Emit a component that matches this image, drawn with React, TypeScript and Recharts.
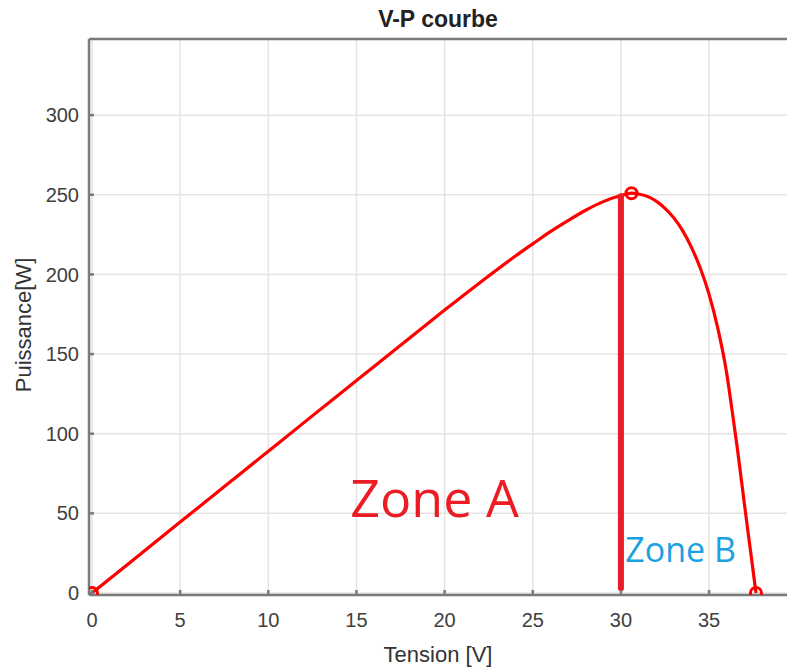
import React from 'react';
import {
  ComposedChart,
  Line,
  Scatter,
  XAxis,
  YAxis,
  CartesianGrid,
  ReferenceLine,
  ReferenceDot,
} from 'recharts';

const voltages = [0, 2, 5, 8, 10, 12, 15, 18, 20, 22, 24, 25, 26, 27, 28, 29, 30, 30.6, 31, 31.5, 32, 32.5, 33, 33.5, 34, 34.5, 35, 35.5, 36, 36.3, 36.6, 36.9, 37.2, 37.45, 37.66];
const powers = [0, 17.8, 44.5, 71.2, 89, 106.8, 133.4, 160, 177.6, 194.8, 211.4, 219.2, 226.9, 233.8, 240.3, 245.7, 249.5, 251, 250.5, 249, 246, 241.5, 235.5, 227.5, 217, 204, 187.5, 166, 138, 115, 91, 65, 39, 18, 0];

const markerV = [0, 30.6, 37.66];
const markerP = [0, 251, 0];

const xTicks = [0, 5, 10, 15, 20, 25, 30, 35];
const yTicks = [0, 50, 100, 150, 200, 250, 300];

const mppLineV = 30;
const mppLineP = [3, 249];

const zoneA = { v: 14.65, p: 48, text: 'Zone A' };
const zoneB = { v: 30.25, p: 19.5, text: 'Zone B' };

const curve = voltages.map((v, i) => ({ v, p: powers[i] }));
const markers = markerV.map((v, i) => ({ v, p: markerP[i] }));

const tickStyle = { fontFamily: 'Liberation Sans, Arial, sans-serif', fontSize: 20, fill: '#404040' };
const AXIS = '#7a7a7a';

const ZoneLabel = (text: string, color: string, size: number) => (props: any) => {
  const vb = props.viewBox || {};
  const x = (vb.x ?? 0) + (vb.width ?? 0) / 2;
  const y = (vb.y ?? 0) + (vb.height ?? 0) / 2;
  return (
    <text x={x} y={y} fill={color} fontSize={size} fontFamily="'Open Sans', sans-serif" textAnchor="start">
      {text}
    </text>
  );
};

const YLabel = (props: any) => {
  const vb = props.viewBox || {};
  const x = (vb.x ?? 0) + 31;
  const y = (vb.y ?? 0) + (vb.height ?? 0) / 2 + 8;
  return (
    <text
      x={x}
      y={y}
      transform={`rotate(-90 ${x} ${y})`}
      textAnchor="middle"
      fontSize={22}
      fontFamily="Liberation Sans, Arial, sans-serif"
      fill="#333"
    >
      Puissance[W]
    </text>
  );
};

const Marker = (props: any) => (
  <circle cx={props.cx} cy={props.cy} r={5.5} fill="none" stroke="#ff0000" strokeWidth={3} />
);

function YLabelWrap(props: any) {
  return <YLabel {...props} />;
}

export default function App() {
  return (
    <div style={{ position: 'absolute', left: 0, top: 0, width: 788, height: 667, background: '#fff' }}>
      <ComposedChart width={788} height={667} data={curve} margin={{ top: 38, right: 0, bottom: 0, left: 0 }}>
        <CartesianGrid stroke="#e4e4e4" strokeWidth={1.5} horizontalValues={yTicks} verticalValues={xTicks} />
        <XAxis
          xAxisId={0}
          dataKey="v"
          type="number"
          domain={[-0.17, 39.42]}
          ticks={xTicks}
          allowDataOverflow
          height={72}
          stroke={AXIS}
          strokeWidth={2.5}
          tickSize={-5}
          tickMargin={23}
          tick={tickStyle}
          label={{ value: 'Tension [V]', position: 'insideBottom', offset: 5, fontSize: 22, fill: '#333', fontFamily: 'Liberation Sans, Arial, sans-serif' }}
        />
        <XAxis
          xAxisId="top"
          orientation="top"
          type="number"
          dataKey="v"
          domain={[-0.17, 39.42]}
          ticks={xTicks}
          allowDataOverflow
          height={1}
          stroke={AXIS}
          strokeWidth={2.5}
          tickSize={-5}
          tick={false}
          label={{ value: 'V-P courbe', position: 'top', offset: 11, fontSize: 23, fontWeight: 'bold', fill: '#222', fontFamily: 'Liberation Sans, Arial, sans-serif' }}
        />
        <YAxis
          yAxisId={0}
          type="number"
          domain={[-1.26, 347.8]}
          ticks={yTicks}
          allowDataOverflow
          width={89}
          stroke={AXIS}
          strokeWidth={2.5}
          tickSize={-5}
          tickMargin={15}
          tick={tickStyle}
          label={<YLabelWrap />}
        />
        <YAxis
          yAxisId="right"
          orientation="right"
          type="number"
          domain={[-1.26, 347.8]}
          ticks={yTicks}
          allowDataOverflow
          width={1}
          axisLine={false}
          stroke={AXIS}
          tickSize={-5}
          tick={false}
        />
        <Line
          dataKey="p"
          type="monotone"
          stroke="#ff0000"
          strokeWidth={3.2}
          dot={false}
          isAnimationActive={false}
        />
        <ReferenceLine
          segment={[{ x: mppLineV, y: mppLineP[0] }, { x: mppLineV, y: mppLineP[1] }]}
          stroke="#ea1c27"
          strokeWidth={6}
          strokeLinecap="round"
        />
        <Scatter data={markers} dataKey="p" shape={<Marker />} isAnimationActive={false} />
        <ReferenceDot x={zoneA.v} y={zoneA.p} r={1} fill="none" stroke="none" label={ZoneLabel(zoneA.text, '#ed1c24', 52)} />
        <ReferenceDot x={zoneB.v} y={zoneB.p} r={1} fill="none" stroke="none" label={ZoneLabel(zoneB.text, '#1ba1e2', 34)} />
      </ComposedChart>
    </div>
  );
}
